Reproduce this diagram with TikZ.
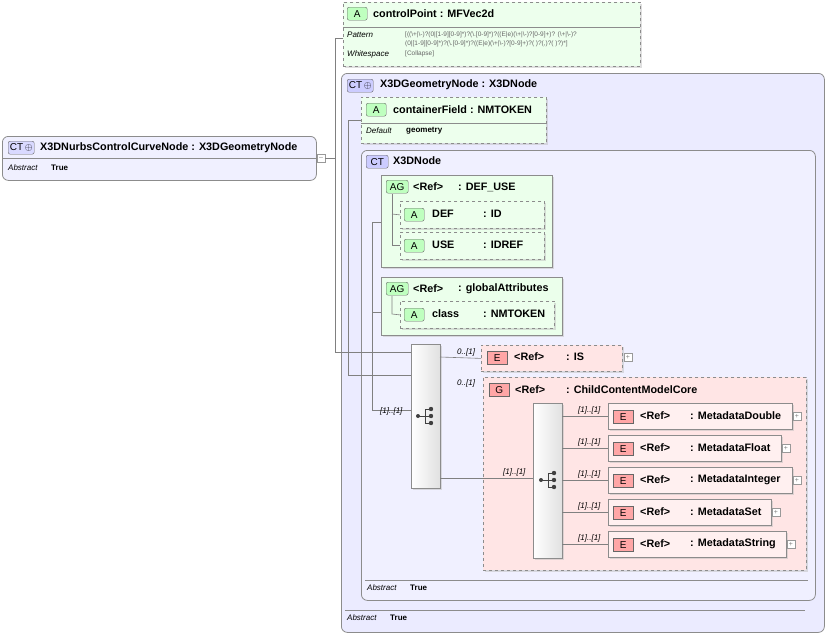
\documentclass[tikz,border=0pt]{standalone}
\usepackage{fontspec}
\setmainfont{Liberation Sans}
\usetikzlibrary{shadows}

\tikzset{
  px/.style={x=1pt,y=-1pt},
  box/.style={draw=black!45,anchor=north west,inner sep=0pt,line width=0.8pt},
  attrbox/.style={box,dashed,fill=green!7,drop shadow={shadow xshift=2pt,shadow yshift=-2pt,fill=black!25}},
  elembox/.style={box,dashed,fill=red!10,drop shadow={shadow xshift=2pt,shadow yshift=-2pt,fill=black!25}},
  refbox/.style={box,fill=red!6,drop shadow={shadow xshift=2pt,shadow yshift=-2pt,fill=black!25}},
  agbox/.style={box,fill=green!8,drop shadow={shadow xshift=2pt,shadow yshift=-2pt,fill=black!25}},
  ctbox/.style={box,rounded corners=6pt,fill=blue!8},
  seqbox/.style={box,left color=white,right color=black!12,drop shadow={shadow xshift=2pt,shadow yshift=-2pt,fill=black!25}},
  badge/.style={draw=black!60,rounded corners=2pt,anchor=north west,inner sep=0pt,font=\fontsize{10}{10}\selectfont,minimum height=13pt},
  lbl/.style={anchor=west,inner sep=0pt,font=\fontsize{10.8}{12}\selectfont\bfseries},
  small/.style={anchor=west,inner sep=0pt,font=\fontsize{8}{9}\selectfont},
  card/.style={anchor=south west,inner sep=0pt,font=\fontsize{8}{9}\selectfont\itshape},
  wire/.style={draw=black!50,line width=0.6pt},
  plus/.style={draw=black!40,fill=white,minimum size=8pt,inner sep=0pt,font=\fontsize{7}{7}\selectfont,text=black!50}
}
\newcommand{\seqicon}[1]{%
  \fill[black!75] (#1) ++(-7,0) circle (2);
  \draw[black!75,line width=0.8pt] (#1) ++(-7,0) -- ++(7,0) ++(0,-7) -- ++(0,14)
    ++(0,-14) -- ++(5,0) ++(-5,7) -- ++(5,0) ++(-5,7) -- ++(5,0);
  \fill[black!75] (#1) ++(6,-7) circle (2.2) ++(0,7) circle (2.2) ++(0,7) circle (2.2);}

\begin{document}
\begin{tikzpicture}[px]
\useasboundingbox (0,0) rectangle (828,635);

% root type
\node[box,rounded corners=6pt,fill=blue!6,minimum width=314pt,minimum height=44pt] (root) at (2,136) {};
\draw[black!45] (2,158) -- (316,158);
\node[badge,fill=blue!15,minimum width=26pt] (rootct) at (8,141) {CT\,$\oplus$};
\node[lbl] at (40,148) {X3DNurbsControlCurveNode : X3DGeometryNode};
\node[small] at (8,168) {\itshape Abstract};
\node[small] at (51,168) {\bfseries True};
\node[plus] (rootpm) at (321,158) {--};

% controlPoint attribute
\node[attrbox,minimum width=297pt,minimum height=64pt] (cp) at (343,2) {};
\draw[black!45] (343,27) -- (640,27);
\node[badge,fill=green!25,minimum width=20pt] at (347,7) {A};
\node[lbl] at (373,14) {controlPoint : MFVec2d};
\node[small] at (347,35) {\itshape Pattern};
\node[small,font=\fontsize{6.5}{7}\selectfont,text=black!60] at (405,35) {[((\textbackslash+|\textbackslash-)?(0|[1-9][0-9]*)?(\textbackslash.[0-9]*)?((E|e)(\textbackslash+|\textbackslash-)?[0-9]+)? (\textbackslash+|\textbackslash-)?};
\node[small,font=\fontsize{6.5}{7}\selectfont,text=black!60] at (405,44) {(0|[1-9][0-9]*)?(\textbackslash.[0-9]*)?((E|e)(\textbackslash+|\textbackslash-)?[0-9]+)?( )?(,)?( )?)*]};
\node[small] at (347,54) {\itshape Whitespace};
\node[small,font=\fontsize{6.5}{7}\selectfont,text=black!60] at (405,54) {[Collapse]};

% X3DGeometryNode
\node[ctbox,minimum width=483pt,minimum height=559pt] (geo) at (341,73) {};
\node[badge,fill=blue!20,minimum width=26pt] at (347,79) {CT\,$\oplus$};
\node[lbl] at (380,85) {X3DGeometryNode : X3DNode};
\draw[black!45] (345,610) -- (805,610);
\node[small] at (347,618) {\itshape Abstract};
\node[small] at (390,618) {\bfseries True};

% containerField
\node[attrbox,minimum width=185pt,minimum height=46pt] (cf) at (361,97) {};
\draw[black!45] (361,123) -- (546,123);
\node[badge,fill=green!25,minimum width=20pt] at (366,103) {A};
\node[lbl] at (393,110) {containerField : NMTOKEN};
\node[small] at (366,131) {\itshape Default};
\node[small] at (406,131) {\bfseries geometry};

% X3DNode
\node[ctbox,fill=blue!6,minimum width=454pt,minimum height=450pt] (x3d) at (361,150) {};
\node[badge,fill=blue!20,minimum width=22pt] at (366,155) {CT};
\node[lbl] at (393,161) {X3DNode};
\draw[black!45] (365,580) -- (808,580);
\node[small] at (367,588) {\itshape Abstract};
\node[small] at (410,588) {\bfseries True};

% DEF_USE
\node[agbox,minimum width=171pt,minimum height=92pt] (defuse) at (381,175) {};
\node[badge,fill=green!25,minimum width=22pt] at (386,180) {AG};
\node[lbl] at (413,187) {<Ref>};
\node[lbl] at (458,187) {: DEF\_USE};
\node[attrbox,minimum width=144pt,minimum height=27pt] (def) at (400,201) {};
\node[badge,fill=green!25,minimum width=20pt] at (404,208) {A};
\node[lbl] at (432,214) {DEF};
\node[lbl] at (483,214) {: ID};
\node[attrbox,minimum width=144pt,minimum height=27pt] (use) at (400,232) {};
\node[badge,fill=green!25,minimum width=20pt] at (404,239) {A};
\node[lbl] at (432,245) {USE};
\node[lbl] at (483,245) {: IDREF};
\draw[wire] (392,194) -- (392,245) -- (def.west |- 0,245);
\draw[wire] (392,214) -- (def.west);

% globalAttributes
\node[agbox,minimum width=181pt,minimum height=58pt] (glob) at (381,277) {};
\node[badge,fill=green!25,minimum width=22pt] at (386,282) {AG};
\node[lbl] at (413,289) {<Ref>};
\node[lbl] at (458,289) {: globalAttributes};
\node[attrbox,minimum width=154pt,minimum height=27pt] (cls) at (400,301) {};
\node[badge,fill=green!25,minimum width=20pt] at (404,308) {A};
\node[lbl] at (432,314) {class};
\node[lbl] at (483,314) {: NMTOKEN};
\draw[wire] (392,296) -- (392,314) -- (cls.west);

% outer sequence
\node[seqbox,minimum width=29pt,minimum height=144pt] (seq) at (411,344) {};
\coordinate (seqc) at (425,416);
\seqicon{seqc}

% IS
\node[elembox,minimum width=141pt,minimum height=26pt] (is) at (481,345) {};
\node[badge,fill=red!35,rounded corners=0pt,minimum width=20pt] at (487,351) {E};
\node[lbl] at (514,357) {<Ref>};
\node[lbl] at (566,357) {: IS};
\node[plus] at (628,357) {+};
\draw[wire] (440,357) -- (is.west);
\node[card] at (457,356) {0..[1]};

% ChildContentModelCore group
\node[elembox,minimum width=323pt,minimum height=193pt] (grp) at (483,377) {};
\node[badge,fill=red!35,rounded corners=0pt,minimum width=20pt] at (489,383) {G};
\node[lbl] at (515,390) {<Ref>};
\node[lbl] at (566,390) {: ChildContentModelCore};
\node[card] at (457,387) {0..[1]};
\node[seqbox,minimum width=29pt,minimum height=155pt] (seqb) at (533,403) {};
\coordinate (seqbc) at (548,480);
\seqicon{seqbc}
\draw[wire] (440,478) -- (seqb.west |- 0,478);
\node[card] at (503,476) {[1]..[1]};

% metadata elements
\foreach \yc/\w/\nm [count=\i] in {416/184/MetadataDouble,448/173/MetadataFloat,480/184/MetadataInteger,512/163/MetadataSet,544/178/MetadataString}{
  \node[refbox,minimum width=\w pt,minimum height=26pt] (m\i) at (608,\yc-13) {};
  \node[badge,fill=red!35,rounded corners=0pt,minimum width=20pt] at (613,\yc-6) {E};
  \node[lbl] at (640,\yc) {<Ref>};
  \node[lbl] at (690,\yc) {: \nm};
  \node[plus] at (608+\w+5,\yc) {+};
  \draw[wire] (562,\yc) -- (m\i.west |- 0,\yc);
  \node[card] at (578,\yc-2) {[1]..[1]};
}

% connectors into sequence
\draw[wire] (rootpm.east) -- (335,158);
\draw[wire] (343,38) -- (335,38) -- (335,352) -- (411,352);
\draw[wire] (cf.west |- 0,120) -- (348,120) -- (348,375) -- (411,375);
\draw[wire] (defuse.west |- 0,222) -- (372,222) -- (372,410) -- (411,410);
\draw[wire] (372,312) -- (glob.west |- 0,312);
\node[card] at (380,415) {[1]..[1]};
\end{tikzpicture}
\end{document}
